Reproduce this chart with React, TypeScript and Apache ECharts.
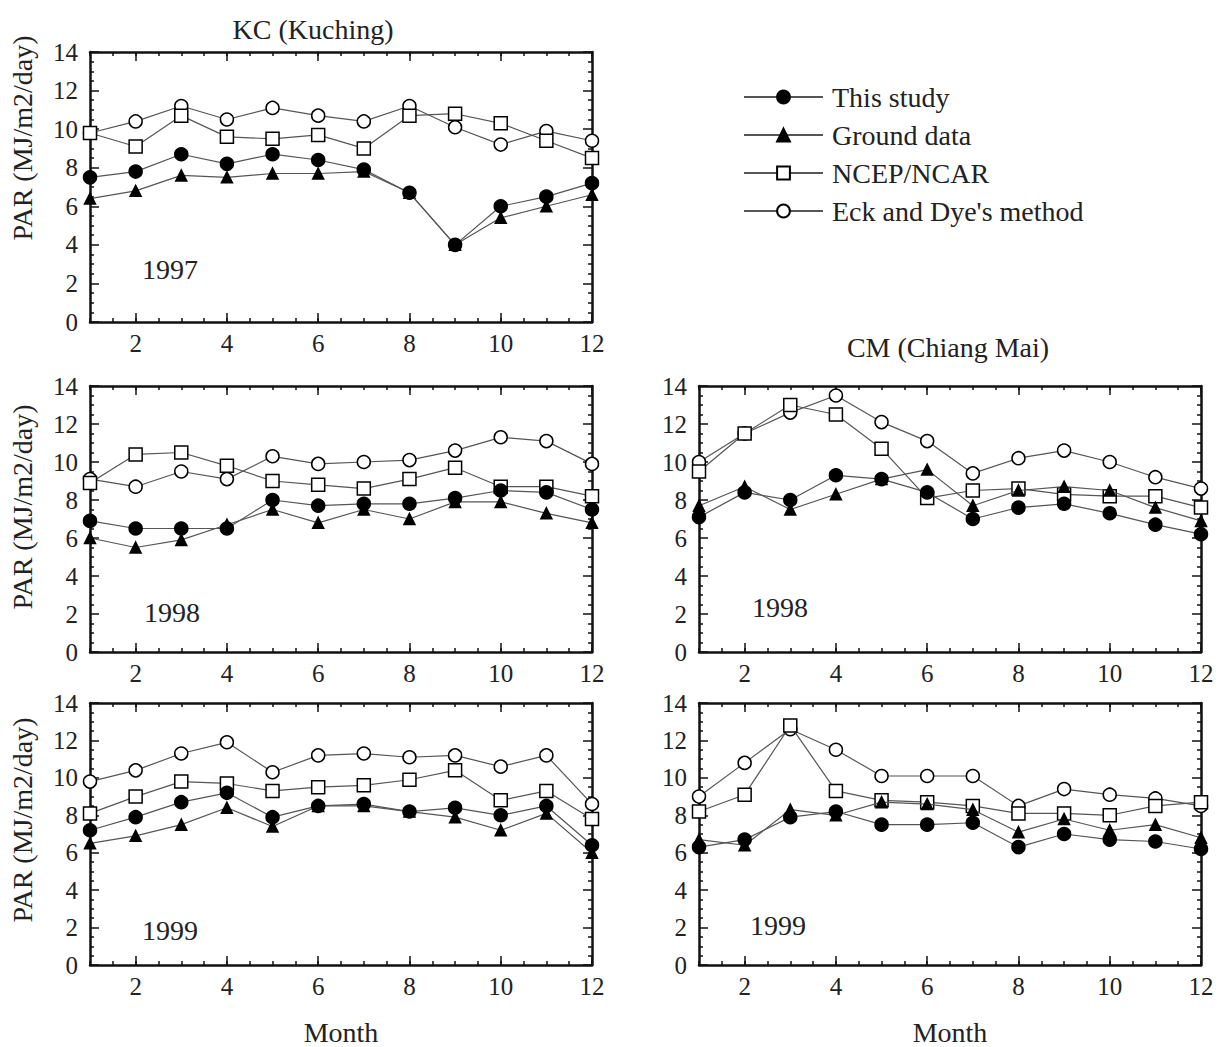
import React, { useEffect, useRef } from "react";
import * as echarts from "echarts";

// ---------- data ----------
const months = [1, 2, 3, 4, 5, 6, 7, 8, 9, 10, 11, 12];
const seriesNames = ["This study", "Ground data", "NCEP/NCAR", "Eck and Dye's method"];

// KC (Kuching) 1997
const kc1997This = [7.5, 7.8, 8.7, 8.2, 8.7, 8.4, 7.9, 6.7, 4.0, 6.0, 6.5, 7.2];
const kc1997Ground = [6.4, 6.8, 7.6, 7.5, 7.7, 7.7, 7.8, 6.7, 4.0, 5.4, 6.0, 6.6];
const kc1997Ncep = [9.8, 9.1, 10.7, 9.6, 9.5, 9.7, 9.0, 10.7, 10.8, 10.3, 9.4, 8.5];
const kc1997Eck = [9.8, 10.4, 11.2, 10.5, 11.1, 10.7, 10.4, 11.2, 10.1, 9.2, 9.9, 9.4];

// KC (Kuching) 1998
const kc1998This = [6.9, 6.5, 6.5, 6.5, 8.0, 7.7, 7.8, 7.8, 8.1, 8.5, 8.4, 7.5];
const kc1998Ground = [6.0, 5.5, 5.9, 6.7, 7.5, 6.8, 7.5, 7.0, 7.9, 7.9, 7.3, 6.8];
const kc1998Ncep = [8.9, 10.4, 10.5, 9.8, 9.0, 8.8, 8.6, 9.1, 9.7, 8.7, 8.7, 8.2];
const kc1998Eck = [9.1, 8.7, 9.5, 9.1, 10.3, 9.9, 10.0, 10.1, 10.6, 11.3, 11.1, 9.9];

// KC (Kuching) 1999
const kc1999This = [7.2, 7.9, 8.7, 9.2, 7.9, 8.5, 8.6, 8.2, 8.4, 8.0, 8.5, 6.4];
const kc1999Ground = [6.5, 6.9, 7.5, 8.4, 7.4, 8.5, 8.5, 8.2, 7.9, 7.2, 8.1, 6.0];
const kc1999Ncep = [8.1, 9.0, 9.8, 9.7, 9.3, 9.5, 9.6, 9.9, 10.4, 8.8, 9.3, 7.8];
const kc1999Eck = [9.8, 10.4, 11.3, 11.9, 10.3, 11.2, 11.3, 11.1, 11.2, 10.6, 11.2, 8.6];

// CM (Chiang Mai) 1998
const cm1998This = [7.1, 8.4, 8.0, 9.3, 9.1, 8.4, 7.0, 7.6, 7.8, 7.3, 6.7, 6.2];
const cm1998Ground = [7.7, 8.7, 7.5, 8.3, 9.1, 9.6, 7.7, 8.5, 8.7, 8.5, 7.6, 6.9];
const cm1998Ncep = [9.5, 11.5, 13.0, 12.5, 10.7, 8.1, 8.5, 8.6, 8.3, 8.2, 8.2, 7.6];
const cm1998Eck = [10.0, 11.5, 12.6, 13.5, 12.1, 11.1, 9.4, 10.2, 10.6, 10.0, 9.2, 8.6];

// CM (Chiang Mai) 1999
const cm1999This = [6.3, 6.7, 7.9, 8.2, 7.5, 7.5, 7.6, 6.3, 7.0, 6.7, 6.6, 6.2];
const cm1999Ground = [6.7, 6.4, 8.3, 8.0, 8.7, 8.6, 8.3, 7.1, 7.8, 7.2, 7.5, 6.8];
const cm1999Ncep = [8.2, 9.1, 12.8, 9.3, 8.8, 8.7, 8.5, 8.1, 8.1, 8.0, 8.5, 8.7];
const cm1999Eck = [9.0, 10.8, 12.6, 11.5, 10.1, 10.1, 10.1, 8.5, 9.4, 9.1, 8.9, 8.5];

const yTicks = [0, 2, 4, 6, 8, 10, 12, 14];
const xLabels = [2, 4, 6, 8, 10, 12];
const stationTitles = ["KC (Kuching)", "CM (Chiang Mai)"];
const yAxisTitle = "PAR (MJ/m2/day)";
const xAxisTitle = "Month";

const panels = [
  { year: "1997", data: [kc1997This, kc1997Ground, kc1997Ncep, kc1997Eck] },
  { year: "1998", data: [kc1998This, kc1998Ground, kc1998Ncep, kc1998Eck] },
  { year: "1999", data: [kc1999This, kc1999Ground, kc1999Ncep, kc1999Eck] },
  { year: "1998", data: [cm1998This, cm1998Ground, cm1998Ncep, cm1998Eck] },
  { year: "1999", data: [cm1999This, cm1999Ground, cm1999Ncep, cm1999Eck] },
];

// ---------- layout / style ----------
const FONT = "'Liberation Serif', 'DejaVu Serif', serif";
const TXT = "#222";
const grids = [
  { left: 90, top: 52, width: 502, height: 270 },
  { left: 90, top: 386, width: 502, height: 266 },
  { left: 90, top: 703, width: 502, height: 264 },
  { left: 699, top: 386, width: 502, height: 266 },
  { left: 699, top: 703, width: 502, height: 264 },
];
const yearPos = [
  [170, 269],
  [172, 612],
  [170, 930],
  [780, 607],
  [778, 925],
];
const parPos = [
  [22, 138],
  [22, 507],
  [22, 820],
];
const styles = [
  { symbol: "circle", size: 13, fill: "#000" },
  { symbol: "triangle", size: 11, fill: "#000" },
  { symbol: "rect", size: 13, fill: "#fff" },
  { symbol: "circle", size: 13, fill: "#fff" },
];

export default function App() {
  const ref = useRef<HTMLDivElement>(null);
  useEffect(() => {
    if (!ref.current) return;
    const chart = echarts.init(ref.current, null, { renderer: "svg" });
    const xAxes: any[] = [];
    const yAxes: any[] = [];
    const series: any[] = [];
    const tickLabel = { fontFamily: FONT, fontSize: 25, color: TXT };
    const axisLine = { show: true, onZero: false, lineStyle: { color: "#111", width: 2.5 } };
    grids.forEach((g, i) => {
      const base = {
        gridIndex: i,
        type: "value",
        min: 1,
        max: 12,
        interval: 1,
        axisLine,
        axisTick: { show: true, inside: true, length: 4, lineStyle: { color: "#111", width: 1.5 } },
        minorTick: { show: true, splitNumber: 2, length: 4, lineStyle: { color: "#111", width: 1.5 } },
        splitLine: { show: false },
      };
      const longTicks = {
        gridIndex: i,
        type: "value",
        min: 1,
        max: 12,
        interval: 1,
        axisLine: { show: false, onZero: false },
        axisLabel: { show: false },
        axisTick: {
          show: true,
          inside: true,
          length: 9,
          customValues: xLabels,
          lineStyle: { color: "#111", width: 1.5 },
        },
        splitLine: { show: false },
      };
      xAxes.push({
        ...base,
        position: "bottom",
        axisLabel: {
          ...tickLabel,
          margin: 9,
          formatter: (v: number) => (xLabels.includes(v) ? String(v) : ""),
        },
        name: i === 2 || i === 4 ? xAxisTitle : "",
        nameLocation: "middle",
        nameGap: 53,
        nameTextStyle: { fontFamily: FONT, fontSize: 28, color: TXT },
      });
      xAxes.push({ ...base, position: "top", axisLabel: { show: false } });
      xAxes.push({ ...longTicks, position: "bottom" });
      xAxes.push({ ...longTicks, position: "top" });
      const ybase = {
        gridIndex: i,
        type: "value",
        min: 0,
        max: 14,
        interval: 2,
        axisLine,
        axisTick: { show: true, inside: true, length: 9, lineStyle: { color: "#111", width: 1.5 } },
        minorTick: { show: true, splitNumber: 4, length: 4, lineStyle: { color: "#111", width: 1.5 } },
        splitLine: { show: false },
      };
      yAxes.push({
        ...ybase,
        position: "left",
        axisLabel: {
          ...tickLabel,
          margin: 12,
          formatter: (v: number) => (yTicks.includes(v) ? String(v) : ""),
        },
      });
      yAxes.push({ ...ybase, position: "right", axisLabel: { show: false } });

      panels[i].data.forEach((vals, k) => {
        const st = styles[k];
        series.push({
          type: "line",
          name: seriesNames[k],
          xAxisIndex: i * 4,
          yAxisIndex: i * 2,
          data: months.map((m, j) => [m, vals[j]]),
          symbol: st.symbol,
          symbolSize: st.size,
          showAllSymbol: true,
          lineStyle: { color: "#555", width: 1.2 },
          itemStyle: { color: st.fill, borderColor: "#000", borderWidth: 1.5 },
          emphasis: { disabled: true },
          z: 2 + (3 - k),
        });
      });
    });

    const graphics: any[] = [];
    yearPos.forEach((p, i) =>
      graphics.push({
        type: "text",
        x: p[0],
        y: p[1],
        style: {
          text: panels[i].year,
          font: `28px ${FONT}`,
          fill: TXT,
          align: "center",
          verticalAlign: "middle",
        },
      })
    );
    parPos.forEach((p) =>
      graphics.push({
        type: "text",
        x: p[0],
        y: p[1],
        rotation: Math.PI / 2,
        style: {
          text: yAxisTitle,
          font: `28px ${FONT}`,
          fill: TXT,
          align: "center",
          verticalAlign: "middle",
        },
      })
    );
    graphics.push(
      {
        type: "text",
        x: 313,
        y: 29,
        style: { text: stationTitles[0], font: `28px ${FONT}`, fill: TXT, align: "center", verticalAlign: "middle" },
      },
      {
        type: "text",
        x: 948,
        y: 347,
        style: { text: stationTitles[1], font: `28px ${FONT}`, fill: TXT, align: "center", verticalAlign: "middle" },
      }
    );

    chart.setOption({
      animation: false,
      backgroundColor: "#fff",
      legend: {
        orient: "vertical",
        left: 738,
        top: 78,
        itemWidth: 79,
        itemHeight: 16,
        itemGap: 10,
        data: seriesNames,
        textStyle: { fontFamily: FONT, fontSize: 28, color: TXT, lineHeight: 28, padding: [0, 0, 0, 4] },
        selectedMode: false,
      },
      grid: grids.map((g) => ({ ...g, containLabel: false })),
      xAxis: xAxes,
      yAxis: yAxes,
      series,
      graphic: graphics,
    });
    return () => chart.dispose();
  }, []);
  return (
    <div
      ref={ref}
      style={{ position: "fixed", left: 0, top: 0, width: 1220, height: 1047, background: "#fff" }}
    />
  );
}
